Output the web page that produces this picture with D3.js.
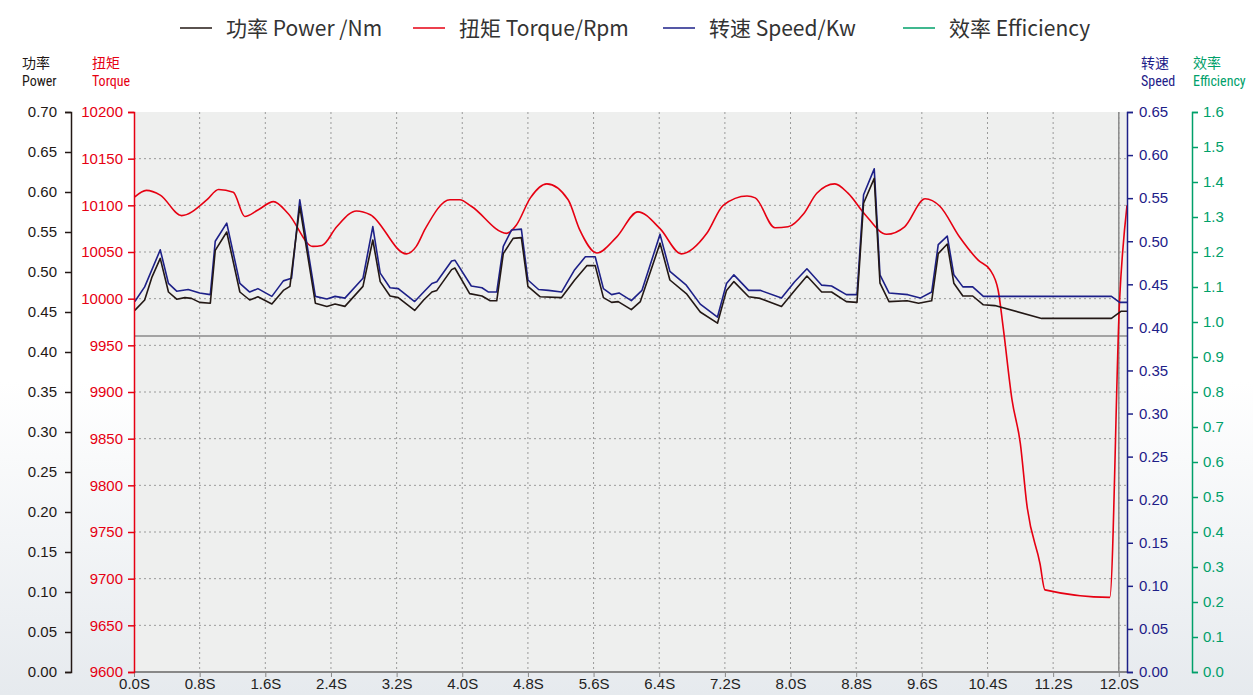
<!DOCTYPE html>
<html>
<head>
<meta charset="utf-8">
<script src="https://cdn.jsdelivr.net/npm/d3@7"></script>
<style>
  body { margin: 0; background: #fff; }
  svg { display: block; }
</style>
</head>
<body>
<div id="chart"></div>
<script>
// time (s) and values
var powerTime = [0.01,0.13,0.22,0.32,0.42,0.52,0.62,0.70,0.80,0.93,0.99,1.13,1.29,1.41,1.51,1.68,1.82,1.90,2.02,2.21,2.35,2.45,2.57,2.79,2.91,3.00,3.12,3.22,3.42,3.53,3.63,3.69,3.87,3.91,4.09,4.24,4.34,4.42,4.50,4.62,4.72,4.80,4.95,5.21,5.37,5.52,5.62,5.72,5.82,5.90,6.06,6.17,6.41,6.53,6.73,6.90,7.11,7.22,7.31,7.49,7.63,7.89,8.05,8.20,8.38,8.50,8.68,8.81,8.89,9.02,9.09,9.20,9.42,9.56,9.72,9.80,9.91,9.99,10.10,10.22,10.35,10.49,11.06,11.91,12.03,12.10];
var power = [0.452,0.465,0.494,0.517,0.475,0.466,0.468,0.467,0.462,0.461,0.527,0.550,0.475,0.465,0.469,0.460,0.477,0.482,0.582,0.461,0.457,0.460,0.457,0.482,0.540,0.488,0.470,0.468,0.452,0.465,0.475,0.477,0.503,0.505,0.473,0.470,0.464,0.464,0.523,0.542,0.543,0.482,0.469,0.468,0.490,0.508,0.508,0.468,0.462,0.463,0.453,0.463,0.536,0.490,0.473,0.450,0.436,0.477,0.488,0.469,0.467,0.457,0.477,0.495,0.475,0.475,0.463,0.462,0.586,0.617,0.486,0.463,0.464,0.461,0.464,0.523,0.535,0.486,0.470,0.470,0.459,0.458,0.442,0.442,0.451,0.451];

var speedTime = [0.01,0.13,0.32,0.42,0.52,0.66,0.80,0.93,0.99,1.13,1.29,1.41,1.51,1.68,1.82,1.92,2.02,2.21,2.35,2.45,2.57,2.79,2.91,3.00,3.12,3.22,3.42,3.53,3.63,3.69,3.87,3.91,4.11,4.24,4.32,4.42,4.50,4.60,4.72,4.80,4.93,5.05,5.21,5.37,5.50,5.62,5.72,5.82,5.91,6.06,6.19,6.41,6.53,6.73,6.90,7.11,7.22,7.31,7.49,7.63,7.89,8.05,8.20,8.38,8.50,8.68,8.81,8.89,9.02,9.09,9.20,9.43,9.58,9.72,9.80,9.91,9.99,10.10,10.22,10.35,11.91,12.01,12.10];
var speed = [0.430,0.447,0.490,0.451,0.442,0.444,0.440,0.438,0.500,0.521,0.451,0.441,0.445,0.436,0.454,0.457,0.548,0.436,0.433,0.436,0.434,0.457,0.517,0.463,0.446,0.445,0.430,0.441,0.451,0.453,0.477,0.478,0.448,0.446,0.441,0.441,0.494,0.513,0.514,0.455,0.444,0.443,0.441,0.467,0.482,0.482,0.445,0.438,0.440,0.431,0.443,0.508,0.465,0.449,0.427,0.412,0.451,0.461,0.443,0.443,0.434,0.453,0.468,0.449,0.448,0.438,0.438,0.554,0.584,0.461,0.440,0.438,0.434,0.441,0.496,0.506,0.461,0.447,0.447,0.436,0.436,0.429,0.429];

var torqueTime = [0.01,0.15,0.32,0.58,0.89,1.03,1.21,1.35,1.51,1.70,1.88,2.18,2.29,2.47,2.71,2.88,3.32,3.44,3.55,3.85,3.97,4.11,4.54,4.66,4.83,5.03,5.29,5.43,5.64,5.88,6.14,6.41,6.67,6.98,7.18,7.47,7.57,7.81,7.97,8.16,8.32,8.54,8.70,8.91,9.17,9.39,9.64,9.82,10.06,10.29,10.43,10.53,10.59,10.70,10.80,10.88,11.04,11.10,11.89,12.01,12.10];
var torque = [10109,10116,10111,10089,10106,10117,10114,10088,10095,10104,10091,10056,10057,10077,10094,10090,10048,10056,10075,10106,10106,10099,10070,10079,10108,10123,10106,10074,10049,10066,10093,10075,10048,10070,10100,10110,10108,10076,10077,10091,10113,10123,10113,10090,10069,10077,10107,10099,10066,10041,10031,10009,9970,9891,9845,9779,9716,9688,9680,9999,10100];

var refLine = 0.42; // grey horizontal rule, power units

var timeTicks = d3.range(16).map(i => i * 0.8);
var powerTicks = d3.range(15).map(i => i * 0.05);
var torqueTicks = d3.range(9600, 10201, 50);
var speedTicks = d3.range(14).map(i => i * 0.05);
var effTicks = d3.range(17).map(i => i * 0.1);

var legendItems = [
  {label: "功率 Power /Nm", color: "#231815", x: 180},
  {label: "扭矩 Torque/Rpm", color: "#e60012", x: 413},
  {label: "转速 Speed/Kw", color: "#1d2088", x: 663},
  {label: "效率 Efficiency", color: "#00a06a", x: 903}
];

var W = 1253, H = 695;
var plotTop = 112, plotBottom = 672, plotLeft = 134, plotRight = 1127;
var tickFont = "'Liberation Sans', Arial, sans-serif";

var svg = d3.select("#chart").append("svg")
    .attr("width", W)
    .attr("height", H);

// faint backdrop towards the bottom
var grad = svg.append("defs").append("linearGradient")
    .attr("id", "bg").attr("x1", 0).attr("y1", 0).attr("x2", 0).attr("y2", 1);
grad.append("stop").attr("offset", "0.55").attr("stop-color", "#ffffff");
grad.append("stop").attr("offset", "1").attr("stop-color", "#e6eaee");
svg.append("rect").attr("width", W).attr("height", H).attr("fill", "url(#bg)");

var x = d3.scaleLinear().domain([0, 12.1]).range([plotLeft, plotRight]);
var yPower = d3.scaleLinear().domain([0, 0.7]).range([plotBottom, plotTop]);
var yTorque = d3.scaleLinear().domain([9600, 10200]).range([plotBottom, plotTop]);
var ySpeed = d3.scaleLinear().domain([0, 0.65]).range([plotBottom, plotTop]);
var yEff = d3.scaleLinear().domain([0, 1.6]).range([plotBottom, plotTop]);

// plot background
svg.append("rect")
    .attr("x", plotLeft).attr("y", plotTop)
    .attr("width", plotRight - plotLeft).attr("height", plotBottom - plotTop)
    .attr("fill", "#eeefee");

// grid
svg.append("g").selectAll("line")
    .data(timeTicks.slice(1))
    .enter().append("line")
    .attr("x1", d => x(d)).attr("x2", d => x(d))
    .attr("y1", plotTop).attr("y2", plotBottom)
    .attr("stroke", "#9a9a9a").attr("stroke-dasharray", "2,3");
svg.append("g").selectAll("line")
    .data(torqueTicks.slice(1, -1))
    .enter().append("line")
    .attr("x1", plotLeft).attr("x2", plotRight)
    .attr("y1", d => yTorque(d)).attr("y2", d => yTorque(d))
    .attr("stroke", "#9a9a9a").attr("stroke-dasharray", "2,3");

// grey rules
svg.append("line")
    .attr("x1", plotLeft).attr("x2", plotRight)
    .attr("y1", yPower(refLine)).attr("y2", yPower(refLine))
    .attr("stroke", "#8a8a8a").attr("stroke-width", 1.5);
svg.append("line")
    .attr("x1", x(12)).attr("x2", x(12))
    .attr("y1", plotTop).attr("y2", plotBottom)
    .attr("stroke", "#8a8a8a").attr("stroke-width", 1.5);

// lines
var torqueLine = d3.line()
    .x((d, i) => x(torqueTime[i]))
    .y(d => yTorque(d))
    .curve(d3.curveMonotoneX);
svg.append("path").datum(torque)
    .attr("d", torqueLine)
    .attr("fill", "none").attr("stroke", "#e60012").attr("stroke-width", 1.6);

var speedLine = d3.line()
    .x((d, i) => x(speedTime[i]))
    .y(d => ySpeed(d));
svg.append("path").datum(speed)
    .attr("d", speedLine)
    .attr("fill", "none").attr("stroke", "#1d2088").attr("stroke-width", 1.6)
    .attr("stroke-linejoin", "round");

var powerLine = d3.line()
    .x((d, i) => x(powerTime[i]))
    .y(d => yPower(d));
svg.append("path").datum(power)
    .attr("d", powerLine)
    .attr("fill", "none").attr("stroke", "#231815").attr("stroke-width", 1.6)
    .attr("stroke-linejoin", "round");

// x axis
var xAxis = svg.append("g")
    .attr("transform", "translate(0," + plotBottom + ")")
    .call(d3.axisBottom(x).tickValues(timeTicks).tickSize(5).tickSizeOuter(0)
        .tickFormat(d => d.toFixed(1) + "S"));
xAxis.select(".domain").attr("stroke", "#888").attr("stroke-width", 2)
    .attr("d", "M" + plotLeft + ",0H" + plotRight);
xAxis.selectAll(".tick line").attr("stroke", "#888");
xAxis.selectAll(".tick text").attr("fill", "#222").attr("y", 6)
    .style("font-family", tickFont).style("font-size", "15px");

function styleAxis(g, color) {
  g.select(".domain").attr("stroke", color).attr("stroke-width", 1.5);
  g.selectAll(".tick line").attr("stroke", color).attr("stroke-width", 1.5);
  g.selectAll(".tick text").attr("fill", color)
      .style("font-family", tickFont).style("font-size", "15px");
}

var gPower = svg.append("g").attr("transform", "translate(71,0)")
    .call(d3.axisLeft(yPower).tickValues(powerTicks).tickSize(6).tickPadding(8).tickFormat(d3.format(".2f")));
styleAxis(gPower, "#231815");

var gTorque = svg.append("g").attr("transform", "translate(" + plotLeft + ",0)")
    .call(d3.axisLeft(yTorque).tickValues(torqueTicks).tickSize(6).tickPadding(5).tickFormat(d3.format("d")));
styleAxis(gTorque, "#e60012");

var gSpeed = svg.append("g").attr("transform", "translate(" + plotRight + ",0)")
    .call(d3.axisRight(ySpeed).tickValues(speedTicks).tickSize(6).tickPadding(6).tickFormat(d3.format(".2f")));
styleAxis(gSpeed, "#1d2088");

var gEff = svg.append("g").attr("transform", "translate(1192,0)")
    .call(d3.axisRight(yEff).tickValues(effTicks).tickSize(6).tickPadding(5).tickFormat(d3.format(".1f")));
styleAxis(gEff, "#00a06a");

// axis titles
var titles = [
  {zh: "功率", en: "Power", x: 22, color: "#231815"},
  {zh: "扭矩", en: "Torque", x: 92, color: "#e60012"},
  {zh: "转速", en: "Speed", x: 1141, color: "#1d2088"},
  {zh: "效率", en: "Efficiency", x: 1193, color: "#00a06a"}
];
titles.forEach(function(t) {
  svg.append("text").text(t.zh)
      .attr("x", t.x).attr("y", 68)
      .attr("fill", t.color)
      .style("font-family", "'Noto Sans CJK SC', sans-serif")
      .style("font-size", "14px");
  svg.append("text").text(t.en)
      .attr("x", t.x).attr("y", 86)
      .attr("fill", t.color)
      .style("font-family", "'Liberation Sans Narrow', 'Roboto Condensed', 'Liberation Sans', sans-serif")
      .style("font-size", "14px");
});

// legend
var legend = svg.append("g").selectAll("g")
    .data(legendItems)
    .enter().append("g")
    .attr("transform", d => "translate(" + d.x + ",28)");
legend.append("line")
    .attr("x1", 0).attr("x2", 32)
    .attr("stroke", d => d.color).attr("stroke-width", 1.5);
legend.append("text")
    .text(d => d.label)
    .attr("x", 46).attr("y", 8)
    .attr("fill", "#333")
    .style("font-family", "'Noto Sans CJK SC', sans-serif")
    .style("font-size", "21px");
</script>
</body>
</html>
